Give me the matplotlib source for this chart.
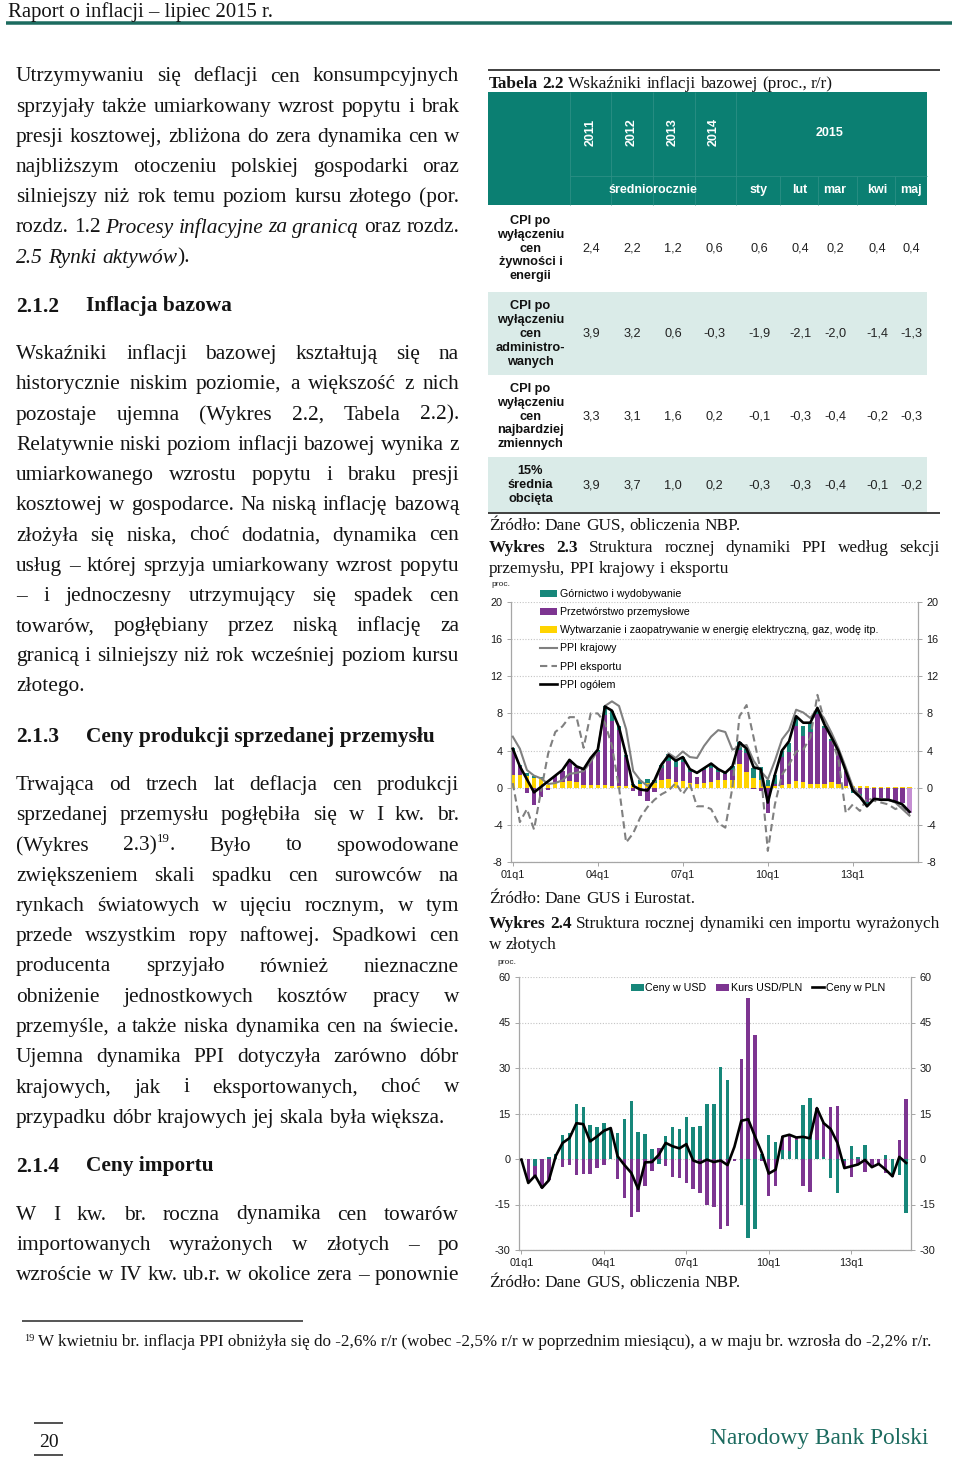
import numpy as np
import matplotlib.pyplot as plt
from matplotlib.patches import Rectangle
from matplotlib.lines import Line2D

# ---------------- data ----------------
tick_pos = [0, 12, 24, 36, 48]
tick_labels = ['01q1', '04q1', '07q1', '10q1', '13q1']

# Wykres 2.3 - PPI structure, 01q1..15q1 (proc.)
energy = [1.4, 1.4, 1.3, 1.1, 1.0, 0.3, 0.6, 0.6, 0.7, 0.6,
          0.3, 0.3, 0.3, 0.3, 0.2, 0.2, 0.2, 0.3, 0.4, 0.5,
          0.5, 0.8, 0.9, 0.6, 0.7, 0.5, 0.4, 0.5, 0.6, 0.8,
          0.8, 0.8, 2.6, 1.7, 1.1, 0.8, 0.2, 0.2, 0.3, 0.4,
          0.7, 0.6, 0.4, 0.4, 0.4, 0.6, 0.4, 0.2, 0.2, 0.2,
          0.2, 0.1, 0.1, 0.1, 0.1, 0.1, 0.1]
manufacturing = [2.6, 0.9, -0.6, -1.9, -1.0, -0.2, 0.7, 1.2, 2.1, 1.6,
                 1.7, 2.9, 3.5, 7.5, 7.0, 6.0, 3.1, -0.4, -0.9, -1.4,
                 -0.5, 1.3, 2.0, 1.6, 2.1, 1.2, 0.8, 1.4, 1.5, 0.9,
                 0.7, 1.1, 1.5, 2.0, -0.1, -0.4, -2.7, 0.2, 3.0, 3.4,
                 6.0, 5.0, 5.6, 7.5, 6.0, 4.4, 3.4, 1.6, -0.2, -0.7,
                 -1.5, -1.3, -1.4, -1.3, -1.4, -1.6, -2.7]
mining = [0.3, 0.1, 0.3, 0.2, 0.2, 0.0, 0.0, 0.0, 0.1, 0.0,
          0.0, 0.0, 0.3, 1.0, 1.1, 0.4, 0.2, 0.1, 0.4, 0.4,
          0.3, 0.4, 0.7, 0.7, 0.5, 0.3, 0.0, 0.2, 0.5, 0.3,
          0.1, 0.4, 0.8, 0.5, 1.0, 1.4, 0.6, 1.0, 0.7, 1.0,
          0.9, 1.1, 1.0, 0.5, 0.3, 0.3, 0.1, 0.0, -0.4, -0.3,
          -0.3, -0.1, 0.0, 0.0, 0.0, 0.0, 0.0]
ppi_total = [4.2, 2.3, 0.9, -0.5, 0.1, 0.7, 1.3, 1.9, 3.0, 2.3,
             2.0, 3.2, 4.1, 8.75, 8.3, 6.5, 3.5, 0.2, -0.2, -0.3,
             0.8, 2.5, 3.5, 2.9, 3.3, 2.0, 1.6, 2.1, 2.6, 2.0,
             1.6, 2.3, 4.9, 4.2, 2.2, 2.0, -1.6, 1.4, 4.0, 5.0,
             7.7, 7.0, 7.0, 8.6, 6.8, 5.4, 3.9, 1.8, -0.3, -1.0,
             -2.0, -1.2, -1.3, -1.3, -1.5, -1.8, -2.6]
ppi_domestic = [5.5, 4.2, 1.9, 1.3, 1.0, 0.4, 0.5, 0.8, 1.5, 1.6,
                1.8, 2.8, 4.0, 8.8, 9.3, 8.8, 6.3, 1.8, 0.8, 0.2,
                0.6, 2.3, 3.7, 3.2, 3.9, 3.3, 3.2, 4.5, 5.5, 6.2,
                6.0, 4.1, 4.4, 4.6, 2.9, 1.8, 0.9, 2.9, 5.2, 6.2,
                8.4, 8.1, 7.5, 8.5, 7.4, 5.9, 4.2, 2.2, 0.1, -0.8,
                -2.0, -1.2, -1.2, -1.3, -1.6, -2.3, -3.0]
ppi_export = [0.5, -3.7, -2.3, -4.5, -0.3, 3.7, 6.0, 6.6, 7.6, 7.6,
              4.3, 8.0, 8.0, 7.0, 4.5, 0.0, -5.9, -4.9, -3.2, -2.1,
              -1.3, -0.7, -0.3, 0.5, -0.7, 0.4, -2.0, -2.0, -2.3, -3.8,
              -4.3, 0.0, 7.7, 8.9, 5.4, 1.8, -6.8, -1.8, 1.4, 2.5,
              3.9, 4.1, 5.4, 10.0, 7.1, 5.4, 2.9, -2.7, -1.8, -2.5,
              -1.1, -1.4, -1.6, -1.8, -2.3, -2.0, -3.0]

# Wykres 2.4 - import prices in PLN, 01q1..15q1 (proc.)
usd_prices = [0.0, 0.0, -2.2, 0.0, 0.7, 1.5, 7.8, 8.7, 18.0, 17.3,
              11.3, 10.5, 11.8, 10.0, 8.7, 13.2, 19.0, 9.0, 8.3, 3.3,
              -1.7, 7.7, 10.5, 10.0, 14.0, 10.5, 11.0, 18.0, 18.0, 30.2,
              26.2, 0.0, -15.3, -26.2, -23.0, 1.8, 8.0, 5.5, 3.0, 2.5,
              6.3, 17.8, 20.0, 6.3, 0.5, -6.2, -11.3, -0.8, 4.3, 0.6,
              4.7, 0.0, 0.0, 1.3, -5.3, -5.3, -17.8]
usd_pln = [-0.5, -8.0, -3.5, -9.5, -6.8, 0.0, -2.5, -2.0, -5.2, -5.0,
           -5.0, -3.0, -2.0, 0.0, -6.7, -12.8, -19.2, -17.4, -8.8, -4.0,
           3.7, -2.4, -5.8, -6.3, -7.8, -10.0, -11.3, -15.2, -15.8, -23.0,
           -22.2, -0.5, 33.0, 53.0, 41.0, -0.8, -12.2, -8.8, 4.5, 5.5,
           0.7, -9.0, -11.0, 10.4, 11.5, 17.0, 17.5, -1.8, -5.8, -2.0,
           -4.3, -2.8, -2.0, -4.5, -0.5, 6.3, 19.7]
pln_prices = [-0.2, -7.9, -5.5, -9.5, -7.0, 1.0, 5.3, 6.9, 11.8, 11.5,
              5.8, 7.4, 9.3, 10.2, 0.9, -2.0, -4.6, -9.9, -1.1, -1.0,
              1.4, 5.3, 4.2, 3.5, 4.9, -0.5, -1.3, -0.2, -1.0, -0.5,
              -2.0, 4.0, 12.6, 13.1, 7.4, 2.0, -4.8, -3.5, 7.4, 8.0,
              7.1, 7.3, 6.8, 16.8, 11.8, 9.9, 5.3, -3.0, -2.4, -1.8,
              -0.3, -2.7, -1.6, -3.5, -5.7, 0.7, -1.3]

# Tabela 2.2
years = ['2011', '2012', '2013', '2014']
months = ['sty', 'lut', 'mar', 'kwi', 'maj']
row_labels = ['CPI po\nwyłączeniu\ncen\nżywności i\nenergii',
              'CPI po\nwyłączeniu\ncen\nadministro-\nwanych',
              'CPI po\nwyłączeniu\ncen\nnajbardziej\nzmiennych',
              '15%\nśrednia\nobcięta']
core_food_energy = [2.4, 2.2, 1.2, 0.6, 0.6, 0.4, 0.2, 0.4, 0.4]
core_admin = [3.9, 3.2, 0.6, -0.3, -1.9, -2.1, -2.0, -1.4, -1.3]
core_volatile = [3.3, 3.1, 1.6, 0.2, -0.1, -0.3, -0.4, -0.2, -0.3]
core_trimmed = [3.9, 3.7, 1.0, 0.2, -0.3, -0.3, -0.4, -0.1, -0.2]

# page text
par1 = ["Utrzymywaniu się deflacji cen konsumpcyjnych",
        "sprzyjały także umiarkowany wzrost popytu i brak",
        "presji kosztowej, zbliżona do zera dynamika cen w",
        "najbliższym otoczeniu polskiej gospodarki oraz",
        "silniejszy niż rok temu poziom kursu złotego (por.",
        "rozdz. 1.2 *Procesy *inflacyjne *za *granicą oraz rozdz.",
        "*2.5 *Rynki *aktywów +)."]
par2 = ["Wskaźniki inflacji bazowej kształtują się na",
        "historycznie niskim poziomie, a większość z nich",
        "pozostaje ujemna (Wykres 2.2, Tabela 2.2).",
        "Relatywnie niski poziom inflacji bazowej wynika z",
        "umiarkowanego wzrostu popytu i braku presji",
        "kosztowej w gospodarce. Na niską inflację bazową",
        "złożyła się niska, choć dodatnia, dynamika cen",
        "usług – której sprzyja umiarkowany wzrost popytu",
        "– i jednoczesny utrzymujący się spadek cen",
        "towarów, pogłębiany przez niską inflację za",
        "granicą i silniejszy niż rok wcześniej poziom kursu",
        "złotego."]
par3 = ["Trwająca od trzech lat deflacja cen produkcji",
        "sprzedanej przemysłu pogłębiła się w I kw. br.",
        "(Wykres 2.3) +^19 +. Było to spowodowane",
        "zwiększeniem skali spadku cen surowców na",
        "rynkach światowych w ujęciu rocznym, w tym",
        "przede wszystkim ropy naftowej. Spadkowi cen",
        "producenta sprzyjało również nieznaczne",
        "obniżenie jednostkowych kosztów pracy w",
        "przemyśle, a także niska dynamika cen na świecie.",
        "Ujemna dynamika PPI dotyczyła zarówno dóbr",
        "krajowych, jak i eksportowanych, choć w",
        "przypadku dóbr krajowych jej skala była większa."]
par4 = ["W I kw. br. roczna dynamika cen towarów",
        "importowanych wyrażonych w złotych – po",
        "wzroście w IV kw. ub.r. w okolice zera – ponownie"]

# ---------------- style ----------------
W, H = 960, 1457
SERIF = ['Liberation Serif', 'DejaVu Serif']
SANS = ['Liberation Sans', 'DejaVu Sans']
plt.rcParams['font.family'] = SANS
plt.rcParams['axes.unicode_minus'] = False
TEAL = '#17877a'
TEAL_HEAD = '#0b7f72'
TEAL_DARK = '#1c6b5f'
LIGHT = '#daebe8'
PURPLE = '#7d3591'
PURPLE_LIGHT = '#c58ed2'
YELLOW = '#ffd400'
GRAY = '#808080'
AXC = '#a6a6a6'
BODY = 15.4
CAP = 12.4

fig = plt.figure(figsize=(W / 100, H / 100), dpi=100)
R = fig.canvas.get_renderer()


def fx(x):
    return x / W


def fy(y):
    return 1 - y / H


def hline(x0, x1, y, color, px):
    fig.add_artist(Line2D([fx(x0), fx(x1)], [fy(y), fy(y)], transform=fig.transFigure,
                          color=color, lw=px * 0.72, solid_capstyle='butt'))


def vline(x, y0, y1, color, px):
    fig.add_artist(Line2D([fx(x), fx(x)], [fy(y0), fy(y1)], transform=fig.transFigure,
                          color=color, lw=px * 0.72, solid_capstyle='butt'))


def box(x0, y0, x1, y1, color):
    fig.add_artist(Rectangle((fx(x0), fy(y1)), (x1 - x0) / W, (y1 - y0) / H,
                             transform=fig.transFigure, facecolor=color, edgecolor='none', zorder=0))


def width(t):
    return t.get_window_extent(renderer=R).width


def fit(t, target):
    t.set_fontsize(t.get_fontsize() * target / width(t))
    return t


def draw_line(s, x0, base, x1=None, size=BODY, color='#141414'):
    # '*' italic, '!' bold, '^' superscript, '+' glued to previous token
    toks = []
    for raw in s.split():
        glued = raw.startswith('+')
        raw = raw.lstrip('+')
        kw = dict(style='normal', weight='normal', size=size)
        dy = 0
        while len(raw) > 1 and raw[0] in '*!^':
            c, raw = raw[0], raw[1:]
            if c == '*':
                kw['style'] = 'italic'
            elif c == '!':
                kw['weight'] = 'bold'
            else:
                kw['size'] = size * 0.6
                dy = size * 0.42 * 100 / 72
        t = fig.text(0, fy(base - dy), raw, family=SERIF, color=color,
                     va='baseline', ha='left', **kw)
        toks.append((t, glued))
    ws = [width(t) for t, _ in toks]
    ngap = sum(1 for i, (_, g) in enumerate(toks) if i > 0 and not g)
    if x1 is not None and ngap:
        gap = (x1 - x0 - sum(ws)) / ngap
    else:
        gap = 0.25 * size * 100 / 72
    x = x0
    for i, (t, g) in enumerate(toks):
        if i > 0 and not g:
            x += gap
        t.set_x(fx(x))
        x += ws[i]


def paragraph(lines, x0, x1, base0, step, last_justified=False):
    for k, s in enumerate(lines):
        last = k == len(lines) - 1
        draw_line(s, x0, base0 + k * step, x1 if (not last or last_justified) else None)


# ---------------- page header / left column ----------------
t = fig.text(fx(8), fy(17), 'Raport o inflacji – lipiec 2015 r.', family=SERIF,
             size=14, va='baseline', color='#141414')
fit(t, 267)
hline(6, 952, 23, TEAL_DARK, 3.5)

paragraph(par1, 16, 459, 81.5, 30.2)
for num, title, base in [('2.1.2', 'Inflacja bazowa', 311.5),
                         ('2.1.3', 'Ceny produkcji sprzedanej przemysłu', 742.3),
                         ('2.1.4', 'Ceny importu', 1171.5)]:
    fig.text(fx(16), fy(base), num, family=SERIF, size=BODY, weight='bold', va='baseline', color='#141414')
    fig.text(fx(86), fy(base), title, family=SERIF, size=BODY, weight='bold', va='baseline', color='#141414')
paragraph(par2, 16, 459, 359.3, 30.2)
paragraph(par3, 16, 459, 790.0, 30.25)
paragraph(par4, 16, 459, 1219.5, 30.2, last_justified=True)

# ---------------- table 2.2 ----------------
hline(488, 940, 70, '#444444', 2)
draw_line('!Tabela !2.2 Wskaźniki inflacji bazowej (proc., r/r)', 489, 88, size=CAP)

box(488, 92, 927, 205, TEAL_HEAD)
sep = '#2d9085'
for xs in [570, 611, 653, 695, 736]:
    vline(xs, 92, 205, sep, 0.8)
hline(570, 927, 176, sep, 0.8)
for xs in [780, 818, 857, 895]:
    vline(xs, 176, 205, sep, 0.8)

col_x = [591, 632, 673, 714, 759, 800, 835, 877, 911]
for cx, yr in zip(col_x, years):
    fig.text(fx(cx), fy(132), yr, rotation=90, color='white', weight='bold', size=9,
             ha='center', va='center')
fig.text(fx(830), fy(133), '2015', color='white', weight='bold', size=9, ha='center', va='center')
fig.text(fx(653), fy(190), 'średniorocznie', color='white', weight='bold', size=9, ha='center', va='center')
for cx, m in zip(col_x[4:], months):
    fig.text(fx(cx), fy(190), m, color='white', weight='bold', size=9, ha='center', va='center')

rows = [core_food_energy, core_admin, core_volatile, core_trimmed]
row_span = [(205, 291), (292, 375), (376, 456), (457, 512)]
row_fill = ['white', LIGHT, 'white', LIGHT]
for lab, vals, (y0, y1), fc in zip(row_labels, rows, row_span, row_fill):
    if fc != 'white':
        box(488, y0, 927, y1, fc)
    yc = (y0 + y1) / 2 + 0.5
    fig.text(fx(530.5), fy(yc), lab, weight='bold', size=9.2, ha='center', va='center',
             multialignment='center', linespacing=1.2, color='#111111')
    for cx, v in zip(col_x, vals):
        fig.text(fx(cx), fy(yc), f'{v:.1f}'.replace('.', ','), size=9.2, ha='center', va='center',
                 color='#222222')
hline(488, 940, 513, '#444444', 2)
draw_line('Źródło: Dane GUS, obliczenia NBP.', 489, 530, size=CAP)

# ---------------- chart helpers ----------------
x = np.arange(len(ppi_total))


def stacked(ax, series, colors, w):
    pos = np.zeros(len(x))
    neg = np.zeros(len(x))
    out = []
    for vals, c in zip(series, colors):
        v = np.asarray(vals, float)
        b = ax.bar(x, v, w, bottom=np.where(v >= 0, pos, neg), color=c, linewidth=0, zorder=2)
        pos += np.clip(v, 0, None)
        neg += np.clip(v, None, 0)
        out.append(b)
    return out


def style_axes(ax, ylim, step, xlim):
    ax.set_xlim(*xlim)
    ax.set_ylim(*ylim)
    ax.set_yticks(np.arange(ylim[0], ylim[1] + 1, step))
    ax.set_xticks(tick_pos, tick_labels)
    ax.grid(axis='y', color='#c4c4c4', ls=(0, (1, 1.5)), lw=0.8)
    ax.set_axisbelow(True)
    for s in ['left', 'right', 'bottom']:
        ax.spines[s].set_color(AXC)
        ax.spines[s].set_linewidth(0.9)
    ax.spines['top'].set_visible(False)
    ax.tick_params(axis='y', left=True, right=True, labelleft=True, labelright=True,
                   length=3, width=0.7, color=AXC, labelsize=7.8, pad=3, labelcolor='#1a1a1a')
    ax.tick_params(axis='x', length=3, width=0.7, color=AXC, labelsize=7.8, pad=3,
                   labelcolor='#1a1a1a')


# ---------------- Wykres 2.3 ----------------
draw_line('!Wykres !2.3 Struktura rocznej dynamiki PPI według sekcji', 489, 552, 940, size=CAP)
draw_line('przemysłu, PPI krajowy i eksportu', 489, 573, size=CAP)
fig.text(fx(491), fy(585), 'proc.', size=6, va='center', color='#222222')

ax1 = fig.add_axes([fx(511), fy(862), 407 / W, 260 / H])
b_en, b_man, b_min = stacked(ax1, [energy, manufacturing, mining], [YELLOW, PURPLE, TEAL], 0.62)
b_man[-1].set_facecolor(PURPLE_LIGHT)
l_dom, = ax1.plot(x, ppi_domestic, color=GRAY, lw=1.5, zorder=3)
l_exp, = ax1.plot(x, ppi_export, color=GRAY, lw=1.5, ls=(0, (3.5, 2)), zorder=3)
l_tot, = ax1.plot(x, ppi_total, color='black', lw=1.9, zorder=4)
style_axes(ax1, (-8, 20), 4, (-0.25, 57.2))
ax1.legend([b_min, b_man, b_en, l_dom, l_exp, l_tot],
           ['Górnictwo i wydobywanie', 'Przetwórstwo przemysłowe',
            'Wytwarzanie i zaopatrywanie w energię elektryczną, gaz, wodę itp.',
            'PPI krajowy', 'PPI eksportu', 'PPI ogółem'],
           loc='upper left', bbox_to_anchor=(fx(540), fy(589)), bbox_transform=fig.transFigure,
           frameon=False, fontsize=7.7, handlelength=1.6, handletextpad=0.3,
           labelspacing=0.76, borderpad=0, borderaxespad=0)
draw_line('Źródło: Dane GUS i Eurostat.', 489, 903, size=CAP)

# ---------------- Wykres 2.4 ----------------
draw_line('!Wykres !2.4 Struktura rocznej dynamiki cen importu wyrażonych', 489, 928, 940, size=CAP)
draw_line('w złotych', 489, 949, size=CAP)
fig.text(fx(497), fy(963), 'proc.', size=6, va='center', color='#222222')

ax2 = fig.add_axes([fx(519), fy(1250), 392 / W, 273 / H])
b_usd, b_fx = stacked(ax2, [usd_prices, usd_pln], [TEAL, PURPLE], 0.5)
l_pln, = ax2.plot(x, pln_prices, color='black', lw=1.9, zorder=4)
style_axes(ax2, (-30, 60), 15, (-0.35, 56.7))
ax2.legend([b_usd, b_fx, l_pln], ['Ceny w USD', 'Kurs USD/PLN', 'Ceny w PLN'], ncol=3,
           loc='upper left', bbox_to_anchor=(fx(631), fy(983)), bbox_transform=fig.transFigure,
           frameon=False, fontsize=7.7, handlelength=1.2, handletextpad=0.15,
           columnspacing=0.9, borderpad=0, borderaxespad=0)
draw_line('Źródło: Dane GUS, obliczenia NBP.', 489, 1287, size=CAP)

# ---------------- footer ----------------
hline(22, 303, 1321, '#222222', 1.5)
fig.text(fx(24), fy(1341), '19', family=SERIF, size=7.5, va='baseline', color='#141414')
t = fig.text(fx(38), fy(1346), 'W kwietniu br. inflacja PPI obniżyła się do -2,6% r/r (wobec -2,5% r/r '
             'w poprzednim miesiącu), a w maju br. wzrosła do -2,2% r/r.', family=SERIF, size=11,
             va='baseline', color='#141414')
fit(t, 890)
hline(34, 63, 1423, '#555555', 2)
hline(34, 63, 1455, '#555555', 2)
fig.text(fx(48.5), fy(1447), '20', family=SERIF, size=14, ha='center', va='baseline', color='#141414')
t = fig.text(fx(710), fy(1444), 'Narodowy Bank Polski', family=SERIF, size=16, va='baseline',
             color=TEAL_DARK)
fit(t, 218)

fig.savefig('out.png', dpi=100)
